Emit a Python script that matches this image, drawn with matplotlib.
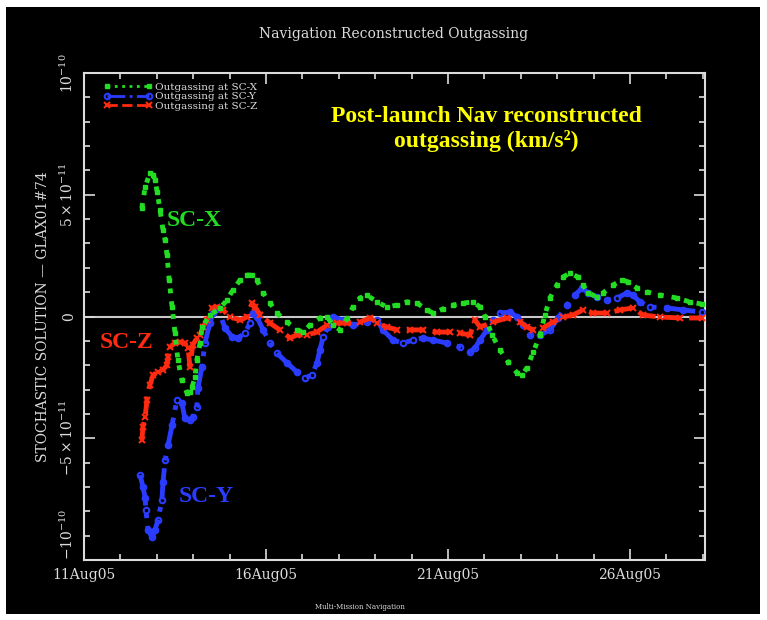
import numpy as np
import matplotlib
matplotlib.use("Agg")
import matplotlib.pyplot as plt
from matplotlib.patches import Rectangle

# day of August 2005 (fractional) and outgassing in units of 1e-11 km/s^2
x_days = [12.59, 12.68, 12.81, 12.90, 12.95, 13.01, 13.09, 13.17, 13.23, 13.28,
          13.34, 13.42, 13.50, 13.58, 13.69, 13.83, 13.91, 13.97, 14.05, 14.10,
          14.19, 14.24, 14.46, 14.74, 14.93, 15.09, 15.29, 15.48, 15.62, 15.75,
          15.92, 16.11, 16.30, 16.58, 16.85, 17.02, 17.21, 17.48, 17.68, 17.84,
          18.03, 18.23, 18.39, 18.58, 18.77, 19.05, 19.32, 19.60, 19.87, 20.15,
          20.42, 20.59, 20.86, 21.14, 21.41, 21.69, 21.88, 22.02, 22.21, 22.43,
          22.65, 22.90, 23.03, 23.17, 23.34, 23.53, 23.66, 23.80, 23.99, 24.16,
          24.35, 24.57, 24.71, 24.85, 25.09, 25.26, 25.53, 25.78, 25.95, 26.19,
          26.46, 26.82, 27.29, 27.64, 27.98]
x_vals = [4.46, 5.32, 5.89, 5.81, 5.61, 5.11, 4.37, 3.55, 3.14, 2.53,
          1.50, 0.39, -0.68, -1.79, -2.61, -3.14, -3.10, -2.90, -2.48, -1.79,
          -1.09, -0.43, 0.06, 0.35, 0.68, 1.09, 1.50, 1.70, 1.70, 1.50,
          0.97, 0.55, 0.14, -0.23, -0.55, -0.64, -0.35, -0.06, -0.02, -0.35,
          -0.55, -0.06, 0.39, 0.76, 0.88, 0.60, 0.39, 0.47, 0.60, 0.55,
          0.27, 0.14, 0.31, 0.47, 0.55, 0.60, 0.39, -0.02, -0.76, -1.38,
          -1.87, -2.32, -2.40, -2.11, -1.46, -0.76, 0.06, 0.76, 1.29, 1.62,
          1.79, 1.62, 1.29, 0.97, 0.80, 0.97, 1.29, 1.50, 1.42, 1.17,
          1.01, 0.88, 0.76, 0.60, 0.51]

y_days = [12.54, 12.62, 12.68, 12.70, 12.76, 12.87, 12.95, 13.03, 13.14, 13.17,
          13.23, 13.31, 13.42, 13.55, 13.69, 13.77, 13.91, 13.99, 14.10, 14.13,
          14.24, 14.32, 14.46, 14.54, 14.68, 14.87, 15.07, 15.23, 15.42, 15.56,
          15.64, 15.75, 15.92, 16.11, 16.30, 16.58, 16.85, 17.07, 17.26, 17.40,
          17.48, 17.57, 17.70, 17.84, 18.12, 18.39, 18.77, 19.05, 19.21, 19.49,
          19.76, 20.04, 20.31, 20.59, 20.97, 21.33, 21.60, 21.74, 21.88, 22.07,
          22.24, 22.43, 22.70, 22.90, 23.06, 23.25, 23.53, 23.80, 24.02, 24.27,
          24.49, 24.68, 24.85, 25.09, 25.37, 25.64, 25.92, 26.08, 26.27, 26.55,
          27.02, 27.46, 27.98]
y_vals = [-6.51, -7.00, -7.45, -7.95, -8.77, -9.06, -8.77, -8.36, -7.54, -6.80,
          -5.89, -5.28, -4.46, -3.43, -3.55, -4.17, -4.25, -4.13, -3.72, -2.94,
          -2.07, -1.09, -0.27, 0.14, 0.35, -0.47, -0.84, -0.88, -0.68, -0.27,
          0.14, -0.02, -0.55, -1.09, -1.50, -1.91, -2.28, -2.53, -2.40, -1.91,
          -1.38, -0.84, -0.43, -0.02, -0.14, -0.35, -0.23, -0.14, -0.55, -0.97,
          -1.09, -0.97, -0.88, -0.97, -1.09, -1.25, -1.46, -1.29, -0.97, -0.55,
          -0.14, 0.14, 0.18, -0.02, -0.35, -0.76, -0.76, -0.55, -0.06, 0.47,
          0.88, 1.17, 0.97, 0.80, 0.68, 0.76, 0.97, 0.88, 0.60, 0.39,
          0.35, 0.27, 0.18]

z_days = [12.59, 12.62, 12.68, 12.73, 12.81, 12.90, 13.03, 13.17, 13.28, 13.31,
          13.36, 13.50, 13.64, 13.77, 13.86, 13.91, 13.99, 14.10, 14.19, 14.27,
          14.38, 14.52, 14.65, 14.82, 15.01, 15.29, 15.48, 15.62, 15.70, 15.84,
          16.11, 16.38, 16.66, 16.85, 17.13, 17.40, 17.68, 17.95, 18.23, 18.58,
          18.86, 19.05, 19.32, 19.60, 19.96, 20.31, 20.70, 21.05, 21.33, 21.60,
          21.74, 21.88, 22.24, 22.62, 22.98, 23.17, 23.34, 23.61, 23.88, 24.16,
          24.43, 24.71, 24.98, 25.37, 25.73, 26.08, 26.36, 26.82, 27.37, 27.98]
z_vals = [-5.07, -4.54, -4.13, -3.43, -2.81, -2.40, -2.28, -2.20, -1.99, -1.66,
          -1.25, -1.09, -1.05, -1.09, -1.29, -2.07, -1.17, -0.88, -0.76, -0.43,
          -0.14, 0.35, 0.39, 0.27, -0.02, -0.14, -0.02, 0.55, 0.39, 0.06,
          -0.27, -0.55, -0.88, -0.76, -0.76, -0.64, -0.35, -0.27, -0.27, -0.23,
          -0.06, -0.27, -0.43, -0.55, -0.55, -0.55, -0.64, -0.64, -0.68, -0.76,
          -0.14, -0.43, -0.23, -0.06, -0.23, -0.43, -0.55, -0.47, -0.23, -0.02,
          0.06, 0.27, 0.14, 0.14, 0.27, 0.35, 0.06, -0.02, -0.06, -0.06]

tick_days = [11, 16, 21, 26]
tick_labels = ["11Aug05", "16Aug05", "21Aug05", "26Aug05"]
ytick_vals = [-10, -5, 0, 5, 10]
ytick_labels = [r"$-10^{-10}$", r"$-5\times10^{-11}$", "0",
                r"$5\times10^{-11}$", r"$10^{-10}$"]

fg = "#dcdcdc"
green = "#22dd22"
blue = "#2a3cff"
red = "#ff2a10"

plt.rcParams["font.family"] = ["DejaVu Serif"]
plt.rcParams["mathtext.fontset"] = "dejavuserif"

fig = plt.figure(figsize=(7.67, 6.2), dpi=100, facecolor="white")
fig.patches.append(Rectangle((6 / 767, 6 / 620), 754 / 767, 607 / 620,
                             transform=fig.transFigure, facecolor="black",
                             edgecolor="none", zorder=-10))

ax = fig.add_axes([84 / 767, 60 / 620, 621 / 767, 487 / 620])
ax.set_facecolor("black")

ax.axhline(0, color="#c8c8c8", lw=1.5, zorder=1)

ax.plot(x_days, x_vals, color=green, ls=":", lw=3.5, marker="s", ms=3.5,
        label="Outgassing at SC-X", zorder=4)
ax.plot(y_days, y_vals, color=blue, ls="-.", lw=3.5, marker="o", ms=4,
        mfc="none", mew=1.5, label="Outgassing at SC-Y", zorder=3)
ax.plot(z_days, z_vals, color=red, ls="--", lw=3.5, marker="x", ms=4,
        mew=1.5, label="Outgassing at SC-Z", zorder=3.5)

ax.set_xlim(11, 28.06)
ax.set_ylim(-10, 10)
ax.set_xticks(tick_days)
ax.set_xticklabels(tick_labels)
ax.set_xticks(np.arange(11, 29), minor=True)
ax.set_yticks(ytick_vals)
ax.set_yticklabels(ytick_labels, rotation=90, va="center")
ax.set_yticks(np.arange(-10, 11), minor=True)

for s in ax.spines.values():
    s.set_color(fg)
    s.set_linewidth(1.5)
ax.tick_params(which="both", direction="in", top=True, right=True,
               colors=fg, labelsize=10, width=1.2)
ax.tick_params(which="major", length=8, pad=6)
ax.tick_params(which="minor", length=4)
# nudge the bottom y label up so it clears the first date label
ax.get_yticklabels()[0].set_va("bottom")

ax.set_ylabel("STOCHASTIC SOLUTION \u2014 GLAX01#74", color=fg, fontsize=10,
              labelpad=6)

fig.text(394 / 767, 1 - 34 / 620, "Navigation Reconstructed Outgassing",
         color=fg, fontsize=10, ha="center", va="center")
fig.text(360 / 767, 1 - 607 / 620, "Multi-Mission Navigation", color=fg,
         fontsize=5, ha="center", va="center")

leg = ax.legend(loc="upper left", bbox_to_anchor=(0.02, 0.995), frameon=False,
                fontsize=7.5, labelspacing=0.0, handlelength=4.6,
                handletextpad=0.3, borderpad=0.2, numpoints=2)
for t in leg.get_texts():
    t.set_color(fg)
for h in leg.get_lines():
    h.set_linewidth(2)

ax.text(0.648, 0.885, "Post-launch Nav reconstructed\noutgassing (km/s\u00b2)",
        transform=ax.transAxes, color="#ffff00", fontsize=17,
        fontweight="bold", family="Liberation Serif", ha="center", va="center",
        linespacing=1.15)

ax.text(13.28, 3.95, "SC-X", color=green, fontsize=17, fontweight="bold",
        family="Liberation Serif", ha="left", va="center")
ax.text(11.43, -1.05, "SC-Z", color=red, fontsize=17, fontweight="bold",
        family="Liberation Serif", ha="left", va="center")
ax.text(13.6, -7.4, "SC-Y", color=blue, fontsize=17, fontweight="bold",
        family="Liberation Serif", ha="left", va="center")

fig.savefig("out.png", dpi=100, facecolor=fig.get_facecolor())
